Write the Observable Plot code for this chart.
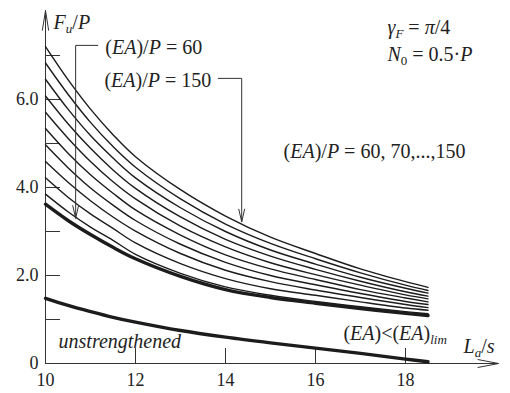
<!DOCTYPE html>
<html><head><meta charset="utf-8">
<script src="https://cdn.jsdelivr.net/npm/d3@7"></script>
<script src="https://cdn.jsdelivr.net/npm/@observablehq/plot@0.6"></script>
<style>body{margin:0;background:#fff} svg{display:block} svg text{font-family:"Liberation Serif","Times New Roman",serif !important;}</style>
</head><body><div id="chart"></div>
<script>
// L_a / s sample positions
const laS = [10, 10.5, 11, 11.5, 12, 13, 14, 15, 16, 17, 18, 18.5];
// (EA)/P values of the thin family
const eaValues = [60, 70, 80, 90, 100, 110, 120, 130, 140, 150];
// F_u / P for each (EA)/P
const ea60  = [3.85, 3.45, 3.10, 2.80, 2.48, 2.05, 1.74, 1.55, 1.41, 1.29, 1.18, 1.13];
const ea70  = [4.22, 3.78, 3.40, 3.07, 2.74, 2.27, 1.93, 1.70, 1.55, 1.40, 1.26, 1.21];
const ea80  = [4.59, 4.12, 3.70, 3.33, 3.01, 2.50, 2.12, 1.86, 1.67, 1.50, 1.34, 1.27];
const ea90  = [4.97, 4.45, 3.99, 3.60, 3.25, 2.71, 2.30, 2.00, 1.79, 1.59, 1.41, 1.34];
const ea100 = [5.34, 4.78, 4.29, 3.87, 3.49, 2.92, 2.47, 2.15, 1.91, 1.68, 1.49, 1.40];
const ea110 = [5.71, 5.12, 4.59, 4.13, 3.74, 3.12, 2.65, 2.29, 2.02, 1.78, 1.56, 1.47];
const ea120 = [6.08, 5.45, 4.89, 4.40, 3.98, 3.33, 2.82, 2.44, 2.14, 1.87, 1.63, 1.53];
const ea130 = [6.46, 5.78, 5.18, 4.67, 4.22, 3.54, 3.00, 2.58, 2.26, 1.96, 1.71, 1.60];
const ea140 = [6.83, 6.12, 5.48, 4.93, 4.46, 3.74, 3.17, 2.73, 2.38, 2.06, 1.78, 1.66];
const ea150 = [7.20, 6.45, 5.78, 5.20, 4.70, 3.95, 3.35, 2.87, 2.50, 2.15, 1.86, 1.73];
// (EA) < (EA)_lim  (bold)
const eaLim = [3.62, 3.25, 2.93, 2.64, 2.38, 1.98, 1.68, 1.50, 1.37, 1.25, 1.14, 1.09];
// unstrengthened (bold)
const unstrengthened = [1.48, 1.32, 1.18, 1.05, 0.94, 0.75, 0.60, 0.47, 0.35, 0.23, 0.10, 0.04];

// ticks
const xTicks = [12, 14, 16, 18];
const xLabels = [10, 12, 14, 16, 18];
const yTicks = [1, 2, 3, 4, 5, 6, 7];
const yLabels = [0, 2, 4, 6];

// axis extents (arrow tips)
const xArrow = 20.07, yArrow = 8.02;

// annotations
const annotations = [
  {x: 10.18, y: 7.74, text: "Fu/P"},
  {x: 11.33, y: 7.17, text: "(EA)/P = 60"},
  {x: 11.31, y: 6.44, text: "(EA)/P = 150"},
  {x: 17.6, y: 7.63, text: "γF = π/4"},
  {x: 17.6, y: 7.01, text: "N0 = 0.5·P"},
  {x: 15.29, y: 4.81, text: "(EA)/P = 60, 70,...,150"},
  {x: 16.62, y: 0.69, text: "(EA)<(EA)lim"},
  {x: 19.29, y: 0.38, text: "La/s"}
];
const italicNotes = [{x: 10.29, y: 0.49, text: "unstrengthened"}];
const leader60 = [{x: 11.16, y: 7.23}, {x: 10.67, y: 7.23}, {x: 10.67, y: 3.30}];
const leader150 = [{x: 13.84, y: 6.48}, {x: 14.36, y: 6.48}, {x: 14.36, y: 3.22}];

const thinSeries = [ea60, ea70, ea80, ea90, ea100, ea110, ea120, ea130, ea140, ea150];
const thinRows = thinSeries.flatMap((vals, i) => vals.map((v, j) => ({x: laS[j], y: v, s: eaValues[i]})));
const boldRows = [
  ...eaLim.map((v, j) => ({x: laS[j], y: v, s: "lim"})),
  ...unstrengthened.map((v, j) => ({x: laS[j], y: v, s: "un"}))
];

const ink = "#1c1c1c";
const serif = "'Liberation Serif', 'Times New Roman', serif";
const chevron = (pts) => ({draw(ctx) { ctx.moveTo(pts[0], pts[1]); ctx.lineTo(0, 0); ctx.lineTo(pts[2], pts[3]); }});
const upArrow = chevron([-3.2, 20, 3.2, 20]);
const rightArrow = chevron([-21, -4, -21, 4]);
const downArrow = chevron([-3, -13, 3, -13]);

const plot = Plot.plot({
  width: 510, height: 393,
  marginLeft: 45, marginRight: 15, marginTop: 11, marginBottom: 30,
  x: {domain: [10, 20], axis: null},
  y: {domain: [0, 8], axis: null},
  style: {fontFamily: serif, fontSize: "18px", color: ink, background: "#fff"},
  marks: [
    Plot.ruleX([10], {y1: 0, y2: yArrow, stroke: "#333", strokeWidth: 1}),
    Plot.ruleY([0], {x1: 10, x2: xArrow, stroke: "#333", strokeWidth: 1}),
    Plot.dot([{x: 10, y: yArrow}], {x: "x", y: "y", symbol: upArrow, fill: "none", stroke: "#333", strokeWidth: 1}),
    Plot.dot([{x: xArrow, y: 0}], {x: "x", y: "y", symbol: rightArrow, fill: "none", stroke: "#333", strokeWidth: 1}),
    Plot.axisY({ticks: yTicks, tickSize: 15, dx: 15, tickFormat: () => "", label: null, stroke: "#333"}),
    Plot.axisX({ticks: xTicks, tickSize: 15, dy: -15, tickFormat: () => "", label: null, stroke: "#333"}),
    Plot.axisY({ticks: yLabels, tickSize: 0, tickPadding: 7, tickFormat: d => d === 0 ? "0" : d.toFixed(1), label: null, fontSize: 18, fill: "#222"}),
    Plot.axisX({ticks: xLabels, tickSize: 0, tickPadding: 10, tickFormat: d => String(d), label: null, fontSize: 18, fill: "#222"}),
    Plot.line(thinRows, {x: "x", y: "y", z: "s", stroke: ink, strokeWidth: 1.4, curve: "catmull-rom"}),
    Plot.line(boldRows, {x: "x", y: "y", z: "s", stroke: ink, strokeWidth: 3.4, curve: "catmull-rom"}),
    Plot.line(leader60, {x: "x", y: "y", stroke: "#333", strokeWidth: 1}),
    Plot.line(leader150, {x: "x", y: "y", stroke: "#333", strokeWidth: 1}),
    Plot.dot([leader60[2], leader150[2]], {x: "x", y: "y", symbol: downArrow, fill: "none", stroke: "#333", strokeWidth: 1}),
    Plot.text(annotations, {x: "x", y: "y", text: "text", textAnchor: "start", fontSize: 20, fill: "#222"}),
    Plot.text(italicNotes, {x: "x", y: "y", text: "text", textAnchor: "start", fontSize: 20, fontStyle: "italic", fill: "#222"})
  ]
});

const it = s => `<tspan font-style="italic">${s}</tspan>`;
const sub = (s, italic) => `<tspan dy="4" font-size="13"${italic ? ' font-style="italic"' : ''}>${s}</tspan>`;
const rich = {
  "Fu/P": it("F") + sub("u", true) + `<tspan dy="-4">/</tspan>` + it("P"),
  "(EA)/P = 60": "(" + it("EA") + ")/" + it("P") + " = 60",
  "(EA)/P = 150": "(" + it("EA") + ")/" + it("P") + " = 150",
  "(EA)/P = 60, 70,...,150": "(" + it("EA") + ")/" + it("P") + " = 60, 70,...,150",
  "γF = π/4": it("γ") + sub("F", true) + `<tspan dy="-4"> = </tspan>` + it("π") + "/4",
  "N0 = 0.5·P": it("N") + sub("0", false) + `<tspan dy="-4"> = 0.5·</tspan>` + it("P"),
  "(EA)<(EA)lim": "(" + it("EA") + ")&lt;(" + it("EA") + ")" + sub("lim", true),
  "La/s": it("L") + sub("a", true) + `<tspan dy="-4">/</tspan>` + it("s")
};
plot.style.fontFamily = serif;
plot.querySelectorAll("text").forEach(t => {
  t.setAttribute("font-family", serif);
  const m = rich[t.textContent];
  if (m) t.innerHTML = m;
});
document.getElementById("chart").appendChild(plot);
</script></body></html>
